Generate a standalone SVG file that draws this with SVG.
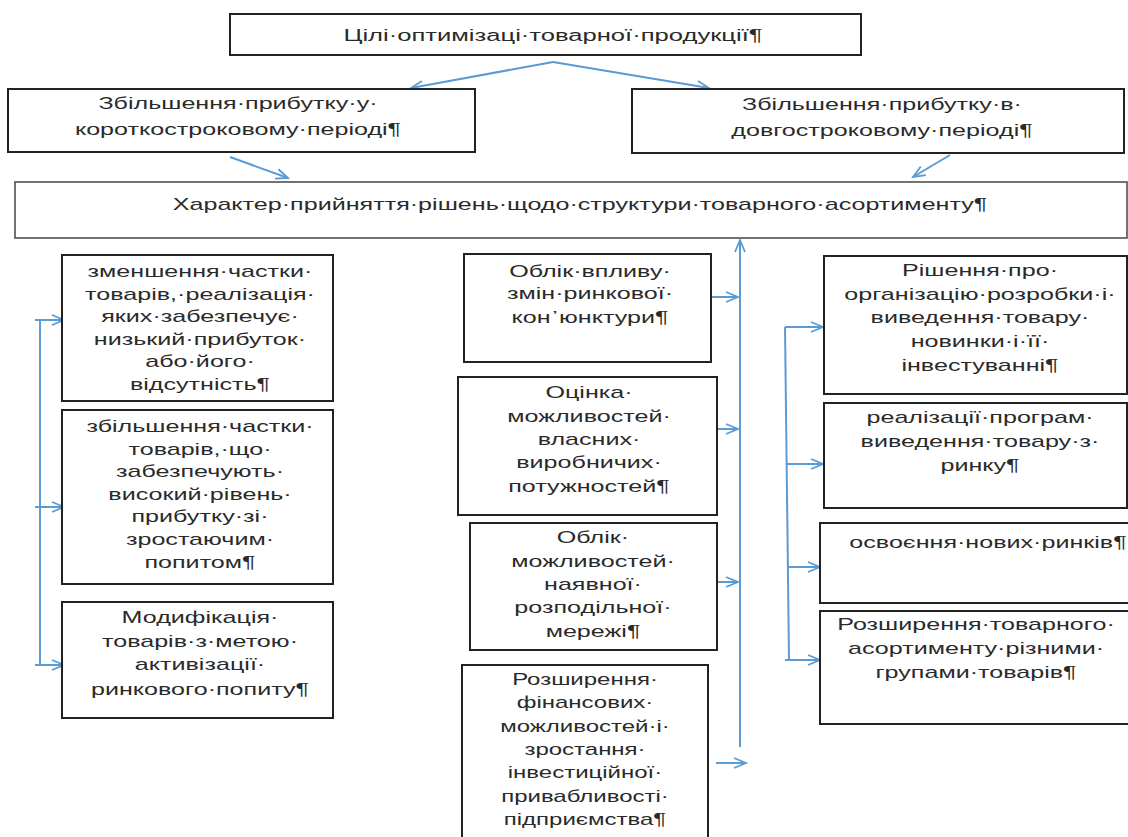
<svg xmlns="http://www.w3.org/2000/svg" width="1128" height="837" viewBox="0 0 1128 837">
<style>
.box{fill:#fff;stroke:#222;stroke-width:2}
.t{font-family:"Liberation Sans",Arial,sans-serif;font-size:16px;fill:#2a2a2a;text-anchor:middle}
.c{fill:none;stroke:#5b9bd5;stroke-width:2}
</style>
<defs>
<marker id="ah" markerUnits="userSpaceOnUse" markerWidth="16" markerHeight="14" refX="13" refY="6" orient="auto" viewBox="0 0 16 12">
<path d="M1,1 L13,6 L1,11" fill="none" stroke="#5b9bd5" stroke-width="1.8"/>
</marker>
</defs>
<rect width="1128" height="837" fill="#fff"/>
<g id="connectors">
<path class="c" d="M553,62 L411,88" marker-end="url(#ah)"/>
<path class="c" d="M553,62 L709,88" marker-end="url(#ah)"/>
<path class="c" d="M230,157 L288,178" marker-end="url(#ah)"/>
<path class="c" d="M950,155 L913,177" marker-end="url(#ah)"/>
<path class="c" d="M740,747 L740,240" marker-end="url(#ah)"/>
<path class="c" d="M708,297 L738,297" marker-end="url(#ah)"/>
<path class="c" d="M717,429 L738,429" marker-end="url(#ah)"/>
<path class="c" d="M717,582 L738,582" marker-end="url(#ah)"/>
<path class="c" d="M716,763 L746,763" marker-end="url(#ah)"/>
<path class="c" d="M40,320 L40,665"/>
<path class="c" d="M35,320 L64,320" marker-end="url(#ah)"/>
<path class="c" d="M35,507 L64,507" marker-end="url(#ah)"/>
<path class="c" d="M35,665 L64,665" marker-end="url(#ah)"/>
<path class="c" d="M785,327 L789,660"/>
<path class="c" d="M785,327 L823,327" marker-end="url(#ah)"/>
<path class="c" d="M787,464 L823,464" marker-end="url(#ah)"/>
<path class="c" d="M788,567 L820,567" marker-end="url(#ah)"/>
<path class="c" d="M785,660 L820,660" marker-end="url(#ah)"/>
</g>
<g id="n-goal">
<rect class="box" x="230" y="14" width="631" height="41"/>
<text class="t" transform="translate(553 0) scale(1.6 1)"><tspan x="0" y="41">Цілі·оптимізаці·товарної·продукції¶</tspan></text>
</g>
<g id="n-short">
<rect class="box" x="8" y="89" width="467" height="63"/>
<text class="t" transform="translate(238 0) scale(1.57 1)"><tspan x="0" y="109">Збільшення·прибутку·у·</tspan><tspan x="0" y="135">короткостроковому·періоді¶</tspan></text>
</g>
<g id="n-long">
<rect class="box" x="632" y="89" width="492" height="64"/>
<text class="t" transform="translate(882 0) scale(1.57 1)"><tspan x="0" y="110">Збільшення·прибутку·в·</tspan><tspan x="0" y="136">довгостроковому·періоді¶</tspan></text>
</g>
<g id="n-main">
<rect class="box" x="15" y="182" width="1112" height="56" style="stroke:#444;stroke-width:1.5"/>
<text class="t" transform="translate(580 0) scale(1.57 1)"><tspan x="0" y="210">Характер·прийняття·рішень·щодо·структури·товарного·асортименту¶</tspan></text>
</g>
<g id="n-a">
<rect class="box" x="62" y="255" width="271" height="146"/>
<text class="t" transform="translate(200 0) scale(1.57 1)"><tspan x="0" y="277">зменшення·частки·</tspan><tspan x="0" y="300">товарів,·реалізація·</tspan><tspan x="0" y="322">яких·забезпечує·</tspan><tspan x="0" y="345">низький·прибуток·</tspan><tspan x="0" y="367">або·його·</tspan><tspan x="0" y="390">відсутність¶</tspan></text>
</g>
<g id="n-b">
<rect class="box" x="62" y="410" width="271" height="174"/>
<text class="t" transform="translate(200 0) scale(1.57 1)"><tspan x="0" y="432">збільшення·частки·</tspan><tspan x="0" y="455">товарів,·що·</tspan><tspan x="0" y="477">забезпечують·</tspan><tspan x="0" y="500">високий·рівень·</tspan><tspan x="0" y="522">прибутку·зі·</tspan><tspan x="0" y="545">зростаючим·</tspan><tspan x="0" y="568">попитом¶</tspan></text>
</g>
<g id="n-c">
<rect class="box" x="62" y="602" width="271" height="116"/>
<text class="t" transform="translate(200 0) scale(1.57 1)"><tspan x="0" y="623">Модифікація·</tspan><tspan x="0" y="647">товарів·з·метою·</tspan><tspan x="0" y="670">активізації·</tspan><tspan x="0" y="695">ринкового·попиту¶</tspan></text>
</g>
<g id="n-d">
<rect class="box" x="464" y="254" width="247" height="108"/>
<text class="t" transform="translate(590 0) scale(1.57 1)"><tspan x="0" y="277">Облік·впливу·</tspan><tspan x="0" y="299">змін·ринкової·</tspan><tspan x="0" y="323">кон᾽юнктури¶</tspan></text>
</g>
<g id="n-e">
<rect class="box" x="458" y="377" width="259" height="138"/>
<text class="t" transform="translate(589 0) scale(1.57 1)"><tspan x="0" y="398">Оцінка·</tspan><tspan x="0" y="422">можливостей·</tspan><tspan x="0" y="445">власних·</tspan><tspan x="0" y="468">виробничих·</tspan><tspan x="0" y="492">потужностей¶</tspan></text>
</g>
<g id="n-f">
<rect class="box" x="470" y="523" width="247" height="127"/>
<text class="t" transform="translate(593 0) scale(1.57 1)"><tspan x="0" y="543">Облік·</tspan><tspan x="0" y="567">можливостей·</tspan><tspan x="0" y="590">наявної·</tspan><tspan x="0" y="613">розподільної·</tspan><tspan x="0" y="637">мережі¶</tspan></text>
</g>
<g id="n-g">
<rect class="box" x="462" y="665" width="246" height="190"/>
<text class="t" transform="translate(585 0) scale(1.5 1)"><tspan x="0" y="685">Розширення·</tspan><tspan x="0" y="708">фінансових·</tspan><tspan x="0" y="732">можливостей·і·</tspan><tspan x="0" y="755">зростання·</tspan><tspan x="0" y="778">інвестиційної·</tspan><tspan x="0" y="802">привабливості·</tspan><tspan x="0" y="825">підприємства¶</tspan></text>
</g>
<g id="n-h">
<rect class="box" x="824" y="256" width="303" height="138"/>
<text class="t" transform="translate(980 0) scale(1.57 1)"><tspan x="0" y="276">Рішення·про·</tspan><tspan x="0" y="300">організацію·розробки·і·</tspan><tspan x="0" y="323">виведення·товару·</tspan><tspan x="0" y="347">новинки·і·її·</tspan><tspan x="0" y="371">інвестуванні¶</tspan></text>
</g>
<g id="n-i">
<rect class="box" x="824" y="403" width="303" height="105"/>
<text class="t" transform="translate(980 0) scale(1.57 1)"><tspan x="0" y="423">реалізації·програм·</tspan><tspan x="0" y="447">виведення·товару·з·</tspan><tspan x="0" y="471">ринку¶</tspan></text>
</g>
<g id="n-j">
<rect class="box" x="820" y="523" width="330" height="80"/>
<text class="t" transform="translate(988 0) scale(1.57 1)"><tspan x="0" y="548">освоєння·нових·ринків¶</tspan></text>
</g>
<g id="n-k">
<rect class="box" x="820" y="611" width="330" height="113"/>
<text class="t" transform="translate(976 0) scale(1.57 1)"><tspan x="0" y="630">Розширення·товарного·</tspan><tspan x="0" y="654">асортименту·різними·</tspan><tspan x="0" y="678">групами·товарів¶</tspan></text>
</g>
</svg>
